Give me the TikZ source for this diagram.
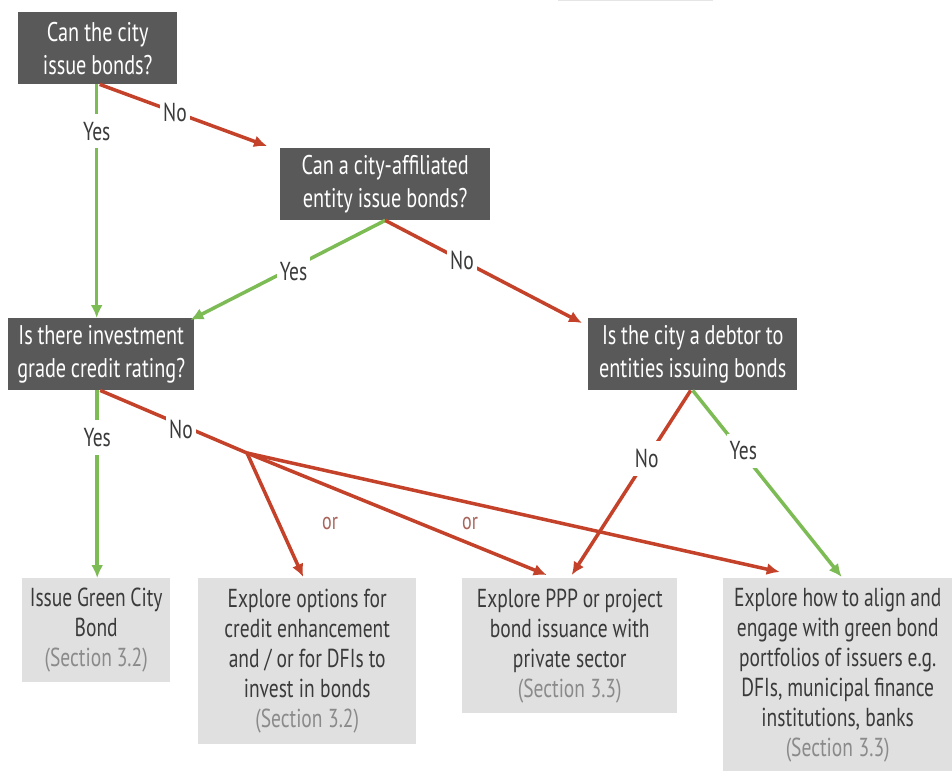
\documentclass[tikz,border=0pt]{standalone}
\usepackage{fontspec}
\setmainfont{PT Sans}[FakeStretch=0.75]
\usepackage{tikz}
\usepackage{xcolor}
\usetikzlibrary{positioning,arrows.meta}

\definecolor{boxdark}{HTML}{595959}
\definecolor{boxlight}{HTML}{E0E0E0}
\definecolor{txtdark}{HTML}{3A3A3A}
\definecolor{txtsec}{HTML}{8A8A8A}
\definecolor{linered}{HTML}{C4412A}
\definecolor{linegreen}{HTML}{7DBB55}
\definecolor{orred}{HTML}{A8645A}

\newcommand\tightsp{\spaceskip=4.5pt plus 1pt\relax}

\begin{document}
\begin{tikzpicture}[x=1pt,y=-1pt,
  ques/.style={
   fill=boxdark,
   text=white,
   anchor=north west,
   inner sep=0pt,
   align=center,
   minimum height=72pt,
   font=\fontsize{27pt}{33pt}\selectfont
  },
  ansr/.style={
   fill=boxlight,
   text=txtdark,
   anchor=north west,
   inner sep=0pt,
   align=center,
   font=\fontsize{26pt}{30pt}\selectfont
  },
  yesar/.style={
   draw=linegreen,
   line width=3.5pt,
   -{Latex[length=13pt,width=12pt]}
  },
  noar/.style={
   draw=linered,
   line width=3.5pt,
   -{Latex[length=13pt,width=12pt]}
  },
  lbl/.style={
   fill=white,
   text=txtdark,
   inner xsep=3pt,
   inner ysep=8pt,
   font=\fontsize{26pt}{28pt}\selectfont
  },
  orlbl/.style={
   text=orred,
   font=\fontsize{24pt}{26pt}\selectfont
  }]
  \fill[white] (0,0) rectangle (952,771);
  \useasboundingbox (0,0) rectangle (952,771);
  \draw[black!10,line width=1pt] (558,0.5) -- (713,0.5);

  % questions
  \node[ques,text width=159pt] (city) at (18,12)
	  {\tightsp Can the city\\issue bonds?};
  \node[ques,text width=210pt] (affil) at (280,148)
	  {\tightsp Can a city-affiliated\\entity issue bonds?};
  \node[ques,text width=186pt] (rating) at (8,318)
	  {\tightsp Is there investment\\grade credit rating?};
  \node[ques,text width=209pt] (debtor) at (588,318)
	  {\tightsp Is the city a debtor to\\entities issuing bonds};

  % answers
  \node[ansr,text width=148pt,minimum height=104pt] (issue) at (22,578)
	  {\tightsp Issue Green City\\Bond\\{\color{txtsec}(Section 3.2)}};
  \node[ansr,text width=218pt,minimum height=166pt] (enhance) at (198,578)
	  {\tightsp Explore options for\\credit enhancement\\and / or for DFIs to\\invest in bonds\\{\color{txtsec}(Section 3.2)}};
  \node[ansr,text width=215pt,minimum height=135pt] (ppp) at (462,578)
	  {\tightsp Explore PPP or project\\bond issuance with\\private sector\\{\color{txtsec}(Section 3.3)}};
  \node[ansr,text width=229pt,minimum height=193pt] (align) at (723,578)
	  {\tightsp Explore how to align and\\engage with green bond\\portfolios of issuers e.g.\\DFIs, municipal finance\\institutions, banks\\{\color{txtsec}(Section 3.3)}};

  \coordinate (fork) at (247,453);

  \draw[yesar] ([xshift=-1pt]city.south) -- ([xshift=-1pt]city.south |- rating.north)
	  node[lbl,pos=0.2] {Yes};
  \draw[noar] ([xshift=2pt]city.south) -- ([xshift=-13pt,yshift=2pt]affil.north west)
	  node[lbl,pos=0.45] {No};
  \draw[yesar] (affil.south) -- ([xshift=-4pt,yshift=-2pt]rating.north east)
	  node[lbl,pos=0.47,yshift=-4pt] {Yes};
  \draw[noar] (affil.south) -- ([xshift=-6pt,yshift=-5pt]debtor.north west)
	  node[lbl,pos=0.39] {No};
  \draw[yesar] ([xshift=-4pt]rating.south) -- ([xshift=-4pt]rating.south |- issue.north)
	  node[lbl,pos=0.25] {Yes};
  \draw[linered,line width=3.5pt] ([xshift=-1pt]rating.south) -- (fork)
	  node[lbl,pos=0.55,yshift=-5pt] {No};

  \draw[noar] (fork) -- ([xshift=-4pt,yshift=1pt]enhance.north);
  \draw[noar] (fork) -- ([xshift=-23pt,yshift=3pt]ppp.north);
  \draw[noar] (fork) -- ([xshift=-58pt,yshift=6pt]align.north);
  \draw[noar] ([xshift=-2pt]debtor.south) -- ([xshift=2pt,yshift=3pt]ppp.north)
	  node[lbl,pos=0.37] {No};
  \draw[yesar] (debtor.south) -- ([xshift=4pt,yshift=1pt]align.north)
	  node[lbl,pos=0.34,yshift=3pt] {Yes};

  \node[orlbl] (or1) at (330,523) {or};
  \node[orlbl] (or2) at (470,523) {or};
\end{tikzpicture}
\end{document}
